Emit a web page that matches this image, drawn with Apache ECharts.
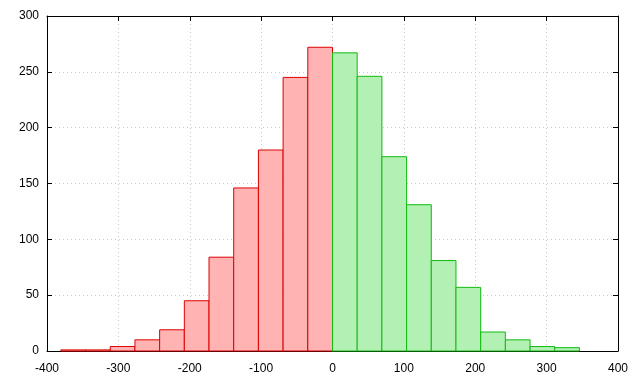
<!DOCTYPE html>
<html>
<head>
<meta charset="utf-8">
<script src="https://cdn.jsdelivr.net/npm/echarts@6/dist/echarts.min.js"></script>
<style>html,body{margin:0;padding:0;background:#fff}#c{width:640px;height:384px}</style>
</head>
<body>
<div id="c"></div>
<script>
// Histogram bins (bin width ~34.6), edges from -380.6 to 346
var binWidth = 34.6;
var negBinStarts = [-380.6, -346, -311.4, -276.8, -242.2, -207.6, -173, -138.4, -103.8, -69.2, -34.6];
var negCounts    = [1, 1, 4, 10, 19, 45, 84, 146, 180, 245, 272];
var posBinStarts = [0, 34.6, 69.2, 103.8, 138.4, 173, 207.6, 242.2, 276.8, 311.4];
var posCounts    = [267, 246, 174, 131, 81, 57, 17, 10, 4, 3];
var xTicks = [-400, -300, -200, -100, 0, 100, 200, 300, 400];
var yTicks = [0, 50, 100, 150, 200, 250, 300];

function makeData(starts, counts) {
  return starts.map(function (s, i) { return [s, s + binWidth, counts[i]]; });
}
function renderBox(fill, stroke) {
  return function (params, api) {
    var p0 = api.coord([api.value(0), 0]);
    var p1 = api.coord([api.value(1), api.value(2)]);
    return {
      type: 'rect',
      shape: { x: p0[0], y: p1[1], width: p1[0] - p0[0], height: p0[1] - p1[1] },
      style: { fill: fill, stroke: stroke, lineWidth: 1 }
    };
  };
}

var chart = echarts.init(document.getElementById('c'), null, { renderer: 'canvas' });
var font = { fontFamily: 'Liberation Sans', fontSize: 12, color: '#000' };
chart.setOption({
  animation: false,
  backgroundColor: '#fff',
  grid: { left: 47, right: 22, top: 16, bottom: 33 },
  xAxis: [{
    type: 'value', min: xTicks[0], max: xTicks[xTicks.length - 1], interval: 100,
    axisLine: { show: true, onZero: false, lineStyle: { color: '#000', width: 1 } },
    axisTick: { show: true, inside: true, length: 5, lineStyle: { color: '#000' } },
    axisLabel: Object.assign({ margin: 12 }, font),
    splitLine: { show: true, lineStyle: { color: '#c8c8c8', type: [1, 3], width: 1 } }
  }, {
    type: 'value', position: 'top', min: xTicks[0], max: xTicks[xTicks.length - 1], interval: 100,
    axisLine: { show: true, onZero: false, lineStyle: { color: '#000', width: 1 } },
    axisTick: { show: true, inside: true, length: 5, lineStyle: { color: '#000' } },
    axisLabel: { show: false }, splitLine: { show: false }
  }],
  yAxis: [{
    type: 'value', min: yTicks[0], max: yTicks[yTicks.length - 1], interval: 50,
    axisLine: { show: true, onZero: false, lineStyle: { color: '#000', width: 1 } },
    axisTick: { show: true, inside: true, length: 5, lineStyle: { color: '#000' } },
    axisLabel: Object.assign({ margin: 8, verticalAlign: 'middle', padding: [2, 0, 0, 0] }, font),
    splitLine: { show: true, lineStyle: { color: '#c8c8c8', type: [1, 3], width: 1 } }
  }, {
    type: 'value', position: 'right', min: yTicks[0], max: yTicks[yTicks.length - 1], interval: 50,
    axisLine: { show: true, onZero: false, lineStyle: { color: '#000', width: 1 } },
    axisTick: { show: true, inside: true, length: 5, lineStyle: { color: '#000' } },
    axisLabel: { show: false }, splitLine: { show: false }
  }],
  series: [{
    type: 'custom', xAxisIndex: 0, yAxisIndex: 0,
    renderItem: renderBox('#ffb3b3', '#dd0000'),
    encode: { x: [0, 1], y: 2 },
    data: makeData(negBinStarts, negCounts), z: 3
  }, {
    type: 'custom', xAxisIndex: 0, yAxisIndex: 0,
    renderItem: renderBox('#b3f0b3', '#11bb11'),
    encode: { x: [0, 1], y: 2 },
    data: makeData(posBinStarts, posCounts), z: 3
  }]
});
</script>
</body>
</html>
